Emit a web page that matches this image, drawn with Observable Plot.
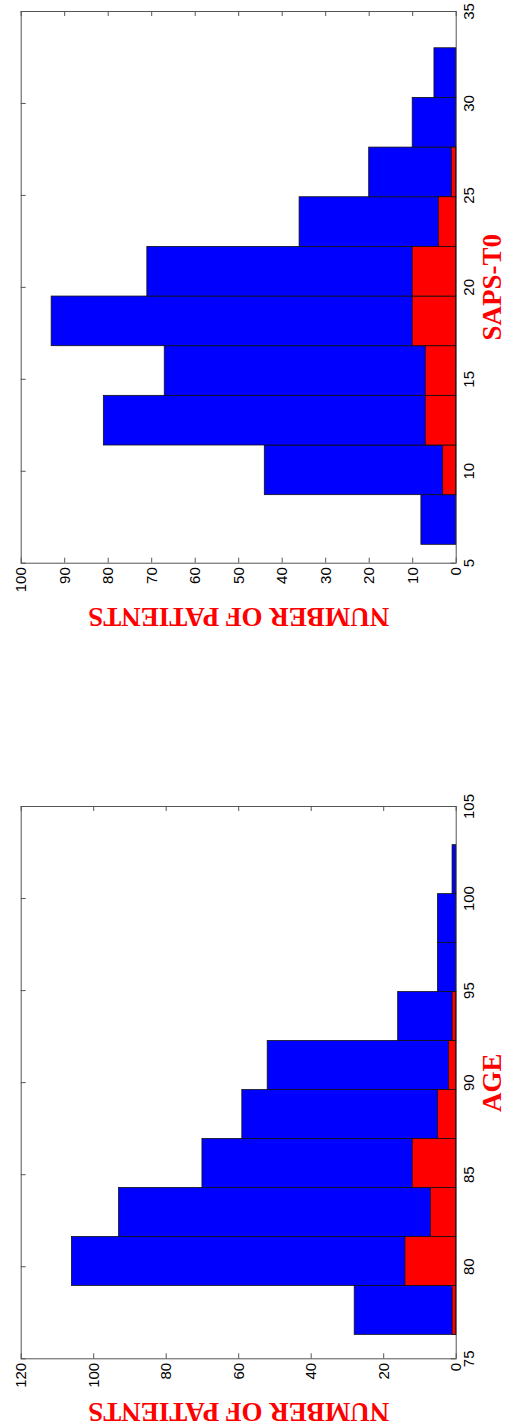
<!DOCTYPE html>
<html>
<head>
<meta charset="utf-8">
<script src="https://cdn.jsdelivr.net/npm/d3@7"></script>
<script src="https://cdn.jsdelivr.net/npm/@observablehq/plot@0.6"></script>
<style>
  body { margin: 0; background: #fff; }
  #chart svg { display: block; }
</style>
</head>
<body>
<div id="chart"></div>
<script>
// ---- data ----
const sapsEdges = [6, 8.7, 11.4, 14.1, 16.8, 19.5, 22.2, 24.9, 27.6, 30.3, 33];
const sapsAll = [8, 44, 81, 67, 93, 71, 36, 20, 10, 5];
const sapsDead = [0, 3, 7, 7, 10, 10, 4, 1, 0, 0];
const sapsValueTicks = [5, 10, 15, 20, 25, 30, 35];
const sapsCountTicks = [0, 10, 20, 30, 40, 50, 60, 70, 80, 90, 100];
const sapsLabel = "SAPS-T0";

const ageEdges = [76.3, 78.96, 81.62, 84.28, 86.94, 89.6, 92.26, 94.92, 97.58, 100.24, 102.9];
const ageAll = [28, 106, 93, 70, 59, 52, 16, 5, 5, 1];
const ageDead = [1, 14, 7, 12, 5, 2, 1, 0, 0, 0];
const ageValueTicks = [75, 80, 85, 90, 95, 100, 105];
const ageCountTicks = [0, 20, 40, 60, 80, 100, 120];
const ageLabel = "AGE";

const countLabel = "NUMBER OF PATIENTS";

const BLUE = "#0000ff", RED = "#ff0000", AXIS = "#555";

function panel({edges, all, dead, valueTicks, countTicks, valueLabel, height, marginTop, marginBottom}) {
  const width = 505, marginLeft = 20.7, marginRight = 49.3;
  const plotH = height - marginTop - marginBottom;
  const plotW = width - marginLeft - marginRight;
  const bins = all.map((v, i) => ({lo: edges[i], hi: edges[i + 1], all: v, dead: dead[i]}));
  return Plot.plot({
    width, height, marginLeft, marginRight, marginTop, marginBottom,
    style: {fontFamily: "Liberation Sans, Arial, sans-serif", fontSize: "15px", background: "#fff", overflow: "visible"},
    x: {domain: [countTicks[0], countTicks[countTicks.length - 1]], reverse: true},
    y: {domain: [valueTicks[0], valueTicks[valueTicks.length - 1]]},
    marks: [
      Plot.frame({stroke: AXIS, strokeWidth: 1}),
      Plot.tickX(countTicks, {x: d => d, insetTop: plotH - 5, stroke: AXIS}),
      Plot.tickX(countTicks, {x: d => d, insetBottom: plotH - 5, stroke: AXIS}),
      Plot.tickY(valueTicks, {y: d => d, insetRight: plotW - 5, stroke: AXIS}),
      Plot.tickY(valueTicks, {y: d => d, insetLeft: plotW - 5, stroke: AXIS}),
      Plot.rect(bins, {x1: d => 0, x2: "all", y1: "lo", y2: "hi", fill: BLUE, stroke: "#111", strokeWidth: 0.8}),
      Plot.rect(bins.filter(d => d.dead > 0), {x1: d => 0, x2: "dead", y1: "lo", y2: "hi", fill: RED, stroke: "#111", strokeWidth: 0.8}),
      Plot.axisX({ticks: countTicks, anchor: "bottom", label: null, tickSize: 0, tickPadding: 4,
        tickRotate: -90, textAnchor: "end", lineAnchor: "middle", fontSize: 15, fill: "#000"}),
      Plot.axisY({ticks: valueTicks, anchor: "right", label: null, tickSize: 0, tickPadding: 13,
        tickRotate: -90, textAnchor: "middle", lineAnchor: "middle", fontSize: 15, fill: "#000"}),
      Plot.text([valueLabel], {frameAnchor: "right", dx: 36, rotate: -90, textAnchor: "middle", lineAnchor: "middle",
        fontSize: 27, fontWeight: "bold", fontFamily: "Liberation Serif, Times New Roman, serif", fill: RED}),
      Plot.text([countLabel], {frameAnchor: "bottom", dy: 53, rotate: 180, textAnchor: "middle", lineAnchor: "middle",
        fontSize: 27, fontWeight: "bold", fontFamily: "Liberation Serif, Times New Roman, serif", fill: RED})
    ]
  });
}

const chart = document.getElementById("chart");
chart.append(panel({edges: sapsEdges, all: sapsAll, dead: sapsDead, valueTicks: sapsValueTicks,
  countTicks: sapsCountTicks, valueLabel: sapsLabel, height: 714, marginTop: 11, marginBottom: 151.3}));
chart.append(panel({edges: ageEdges, all: ageAll, dead: ageDead, valueTicks: ageValueTicks,
  countTicks: ageCountTicks, valueLabel: ageLabel, height: 714, marginTop: 92, marginBottom: 69.7}));
</script>
</body>
</html>
